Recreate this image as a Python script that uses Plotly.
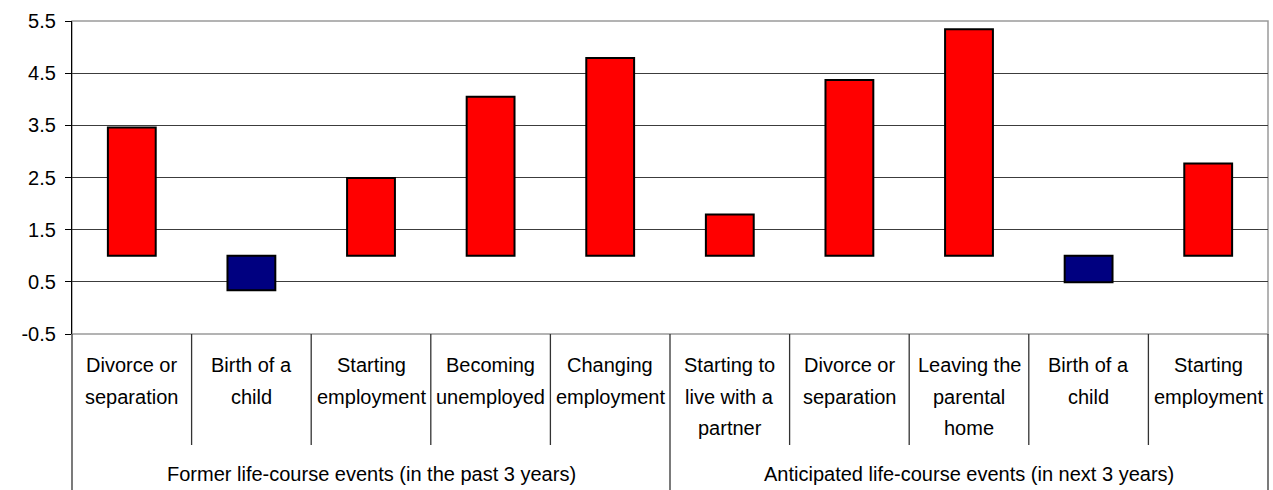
import plotly.graph_objects as go

# ---- data ----
categories = [
    "Divorce or\nseparation",
    "Birth of a\nchild",
    "Starting\nemployment",
    "Becoming\nunemployed",
    "Changing\nemployment",
    "Starting to\nlive with a\npartner",
    "Divorce or\nseparation",
    "Leaving the\nparental\nhome",
    "Birth of a\nchild",
    "Starting\nemployment",
]
groups = [
    "Former life-course events (in the past 3 years)",
    "Anticipated life-course events (in next 3 years)",
]
group_sizes = [5, 5]
odds_ratios = [3.46, 0.34, 2.49, 4.05, 4.79, 1.79, 4.37, 5.34, 0.49, 2.77]
baseline = 1.0
y_ticks = [-0.5, 0.5, 1.5, 2.5, 3.5, 4.5, 5.5]

# ---- layout constants ----
W, H = 1273, 490
M_L, M_R, M_T, M_B = 72, 5, 21, 156
plot_h = H - M_T - M_B
FONT = "Liberation Sans, Arial, sans-serif"
FS = 20

n = len(categories)
xs = list(range(n))
colors = ["#FF0000" if v >= baseline else "#000080" for v in odds_ratios]

fig = go.Figure()
fig.add_trace(go.Bar(
    x=xs,
    y=[v - baseline for v in odds_ratios],
    base=baseline,
    marker=dict(color=colors, line=dict(color="black", width=2)),
    width=0.4,
    customdata=odds_ratios,
    hovertemplate="%{customdata}<extra></extra>",
    showlegend=False,
))

ymin, ymax = y_ticks[0], y_ticks[-1]
base_pos = (baseline - ymin) / (ymax - ymin)

shapes = []
# plot border (gray)
shapes.append(dict(type="rect", xref="paper", yref="paper", x0=0, x1=1, y0=0, y1=1,
                   line=dict(color="#9a9a9a", width=1.5), layer="below"))

def px2paper_y(px_below):
    return -px_below / plot_h

# separators in the category label area
group_edges = [0]
for s in group_sizes:
    group_edges.append(group_edges[-1] + s)
for b in range(n + 1):
    xp = b / n
    if b in group_edges:
        y1 = px2paper_y(M_B + 5)
    else:
        y1 = px2paper_y(111)
    shapes.append(dict(type="line", xref="paper", yref="paper", x0=xp, x1=xp, y0=0, y1=y1,
                       line=dict(color="#333333", width=1.3)))

annotations = []
line_offsets = [31, 63, 94]
for i, cat in enumerate(categories):
    for k, line in enumerate(cat.split("\n")):
        annotations.append(dict(
            x=xs[i], xref="x", y=px2paper_y(line_offsets[k]), yref="paper",
            text=line, showarrow=False, xanchor="center", yanchor="middle",
            font=dict(family=FONT, size=FS, color="black"),
        ))
for g, label in enumerate(groups):
    center = (group_edges[g] + group_edges[g + 1] - 1) / 2
    annotations.append(dict(
        x=center, xref="x", y=px2paper_y(140), yref="paper",
        text=label, showarrow=False, xanchor="center", yanchor="middle",
        font=dict(family=FONT, size=FS, color="black"),
    ))

fig.update_layout(
    width=W, height=H,
    margin=dict(l=M_L, r=M_R, t=M_T, b=M_B, pad=0),
    paper_bgcolor="white", plot_bgcolor="white",
    font=dict(family=FONT, size=FS, color="black"),
    bargap=0.6,
    xaxis=dict(range=[-0.5, n - 0.5], showticklabels=False, showgrid=False,
               zeroline=False, showline=False, ticks="", fixedrange=True),
    xaxis2=dict(overlaying="x", anchor="free", position=base_pos,
                range=[-0.5, n - 0.5], tickmode="array",
                tickvals=[b - 0.5 for b in range(1, n + 1)],
                ticks="outside", ticklen=6, tickwidth=1.3, tickcolor="#555555",
                showline=True, linecolor="#666666", linewidth=1.3,
                showticklabels=False, showgrid=False, zeroline=False),
    yaxis=dict(range=[ymin, ymax], tickmode="array", tickvals=y_ticks,
               ticktext=[f"{t:.1f}" for t in y_ticks],
               showgrid=True, gridcolor="#3c3c3c", gridwidth=1,
               zeroline=False, showline=True, linecolor="black", linewidth=1.3,
               ticks="outside", ticklen=6, tickcolor="black", tickwidth=1.3,
               ticklabelstandoff=5,
               tickfont=dict(family=FONT, size=FS, color="black")),
    shapes=shapes,
    annotations=annotations,
)

fig.write_html(
    "out.html",
    config={"displayModeBar": False},
    post_script="document.body.style.margin='0';document.body.style.overflow='hidden';",
)
